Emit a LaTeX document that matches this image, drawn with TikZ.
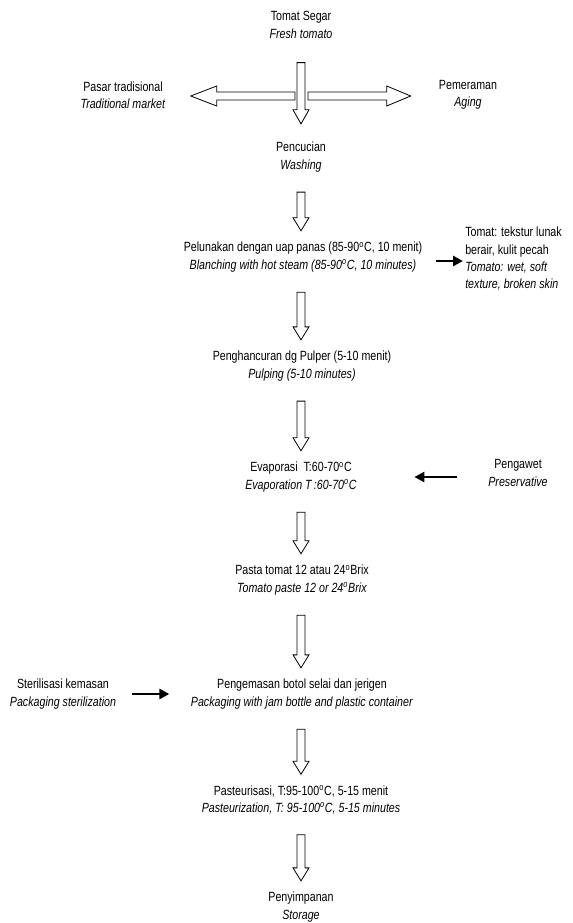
\documentclass[tikz,border=0pt]{standalone}
\usepackage{fontspec}
\setmainfont{Liberation Sans}[FakeStretch=0.8]
\usetikzlibrary{calc,arrows.meta}

\newcommand{\degr}{\textsuperscript{o}}
\newcommand{\blockdown}[2]{%
	\draw[hollow] ($(#1.south -| axis)+(-4,20)$) -- ($(#2.north -| axis)+(-4,-24)$) -- ($(#2.north -| axis)+(-8,-24)$) -- ($(#2.north -| axis)+(0,-11)$) -- ($(#2.north -| axis)+(8,-24)$) -- ($(#2.north -| axis)+(4,-24)$) -- ($(#1.south -| axis)+(4,20)$) -- cycle;}

\begin{document}
\begin{tikzpicture}[x=0.75pt, y=-0.75pt,
		txt/.style={align=center, inner sep=0pt, font=\fontsize{10}{13}\selectfont},
		hollow/.style={draw, fill=white, line width=0.6pt, line join=miter},
		push/.style={line width=2pt, -{Triangle[length=7.5pt, width=7.5pt]}}]
	\useasboundingbox (0,0) rectangle (573,923);
	\coordinate (axis) at (301,0);

	\node[txt] (fresh) at (301,25) {Tomat Segar\\\textit{Fresh tomato}};
	\node[txt] (market) at (123,95) {Pasar tradisional\\\textit{Traditional market}};
	\node[txt] (aging) at (468,95) {Pemeraman\\\textit{Aging}};
	\node[txt] (wash) at (301,157) {Pencucian\\\textit{Washing}};
	\node[txt] (blanch) at (303,257) {Pelunakan dengan uap panas (85-90\degr C, 10 menit)\\\textit{Blanching with hot steam (85-90\degr C, 10 minutes)}};
	\node[txt, align=left, anchor=west] (result) at (465,259) {Tomat: tekstur lunak\\berair, kulit pecah\\\textit{Tomato: wet, soft}\\\textit{texture, broken skin}};
	\node[txt] (pulp) at (302,366) {Penghancuran dg Pulper (5-10 menit)\\\textit{Pulping (5-10 minutes)}};
	\node[txt] (evap) at (301,477) {Evaporasi\ \ T:60-70\degr C\\\textit{Evaporation T\,:60-70\degr C}};
	\node[txt] (preserv) at (518,473) {Pengawet\\\textit{Preservative}};
	\node[txt] (paste) at (302,580) {Pasta tomat 12 atau 24\degr Brix\\\textit{Tomato paste 12 or 24\degr Brix}};
	\node[txt] (pack) at (302,694) {Pengemasan botol selai dan jerigen\\\textit{Packaging with jam bottle and plastic container}};
	\node[txt] (steril) at (63,694) {Sterilisasi kemasan\\\textit{Packaging sterilization}};
	\node[txt] (pasteur) at (301,800) {Pasteurisasi, T:95-100\degr C, 5-15 menit\\\textit{Pasteurization, T: 95-100\degr C, 5-15 minutes}};
	\node[txt] (store) at (301,907) {Penyimpanan\\\textit{Storage}};

	\coordinate (lt) at ($(market.east)+(25,1)$);
	\coordinate (ls) at ($(axis |- lt)+(-6,0)$);
	\coordinate (rt) at ($(aging.west)+(-28,1)$);
	\coordinate (rs) at ($(axis |- rt)+(7,0)$);
	\draw[hollow] ($(ls)+(0,-4)$) -- ($(lt)+(26,-4)$) -- ($(lt)+(26,-10)$) -- (lt) -- ($(lt)+(26,10)$) -- ($(lt)+(26,4)$) -- ($(ls)+(0,4)$) -- cycle;
	\draw[hollow] ($(rs)+(0,-4)$) -- ($(rt)+(-24,-4)$) -- ($(rt)+(-24,-10)$) -- (rt) -- ($(rt)+(-24,10)$) -- ($(rt)+(-24,4)$) -- ($(rs)+(0,4)$) -- cycle;
	\draw[hollow] ($(fresh.south -| axis)+(-4,24)$) -- ($(wash.north -| axis)+(-4,-32)$) -- ($(wash.north -| axis)+(-8,-32)$) -- ($(wash.north -| axis)+(0,-18)$) -- ($(wash.north -| axis)+(8,-32)$) -- ($(wash.north -| axis)+(4,-32)$) -- ($(fresh.south -| axis)+(4,24)$) -- cycle;

	\blockdown{wash}{blanch}
	\blockdown{blanch}{pulp}
	\blockdown{pulp}{evap}
	\blockdown{evap}{paste}
	\blockdown{paste}{pack}
	\blockdown{pack}{pasteur}
	\blockdown{pasteur}{store}

	\draw[push, shorten <=10pt, shorten >=1.5pt] ($(blanch.east)+(0,4)$) -- ($(result.west)+(0,2)$);
	\draw[push, shorten <=23pt, shorten >=43pt] ($(preserv.west)+(0,4)$) -- ($(preserv.west -| evap.east)+(0,4)$);
	\draw[push, shorten <=12pt, shorten >=16pt] (steril.east) -- (steril.east -| pack.west);
\end{tikzpicture}
\end{document}
